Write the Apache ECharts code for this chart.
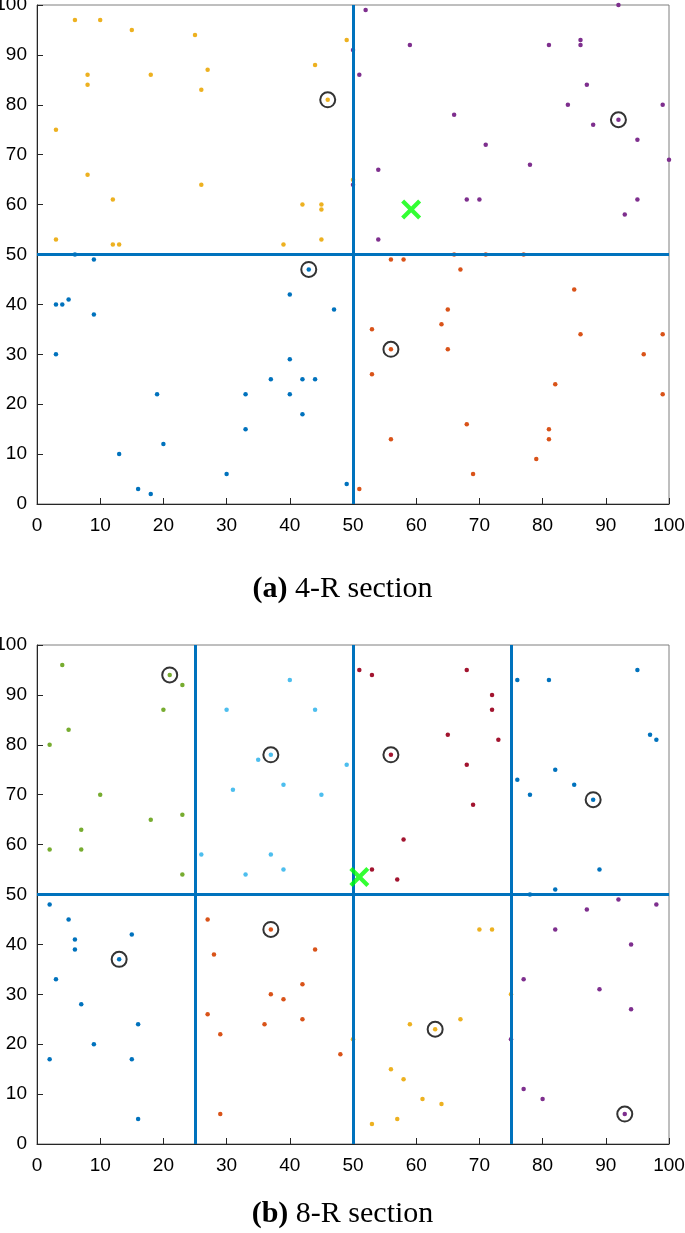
<!DOCTYPE html>
<html>
<head>
<meta charset="utf-8">
<script src="https://cdn.jsdelivr.net/npm/echarts@6/dist/echarts.min.js"></script>
<style>
html,body{margin:0;padding:0;background:#fff;}
#chart{width:685px;height:1233px;}
</style>
</head>
<body>
<div id="chart"></div>
<script>
// ---------- data ----------
const axisRange = [0, 100];
const tickStep = 10;

// (a) 4-R section
const topBlue = [[6,50],[9,49],[43,47],[3,40],[4,40],[5,41],[9,38],[40,42],[47,39],[3,30],[40,29],[37,25],[42,25],[44,25],[19,22],[33,22],[40,22],[42,18],[33,15],[20,12],[13,10],[30,6],[16,3],[18,2],[49,4]];
const topRed = [[56,49],[58,49],[66,50],[71,50],[77,50],[67,47],[85,43],[65,39],[64,36],[53,35],[86,34],[99,34],[56,31],[65,31],[96,30],[53,26],[82,24],[99,22],[68,16],[81,15],[81,13],[56,13],[79,9],[69,6],[51,3]];
const topYellow = [[6,97],[10,97],[15,95],[25,94],[49,93],[44,88],[8,86],[18,86],[27,87],[8,84],[26,83],[46,81],[3,75],[8,66],[26,64],[50,65],[12,61],[42,60],[45,60],[45,59],[3,53],[12,52],[13,52],[39,52],[45,53]];
const topPurple = [[52,99],[50,91],[59,92],[51,86],[92,100],[81,92],[86,93],[86,92],[87,84],[84,80],[99,80],[92,77],[88,76],[66,78],[95,73],[71,72],[100,69],[78,68],[54,67],[50,64],[68,61],[70,61],[95,61],[93,58],[54,53]];
const topCentres = [[46,81],[92,77],[43,47],[56,31]];
const topCross = [[59.2,59]];
const topDividersX = [50];
const topDividersY = [50];

// (b) 8-R section
const botGreen = [[4,96],[21,94],[23,92],[20,87],[5,83],[2,80],[10,70],[23,66],[18,65],[7,63],[2,59],[7,59],[23,54]];
const botLightBlue = [[40,93],[30,87],[44,87],[37,78],[35,77],[49,76],[31,71],[39,72],[45,70],[26,58],[37,58],[33,54],[39,55]];
const botCrimson = [[51,95],[53,94],[68,95],[72,90],[72,87],[65,82],[73,81],[56,78],[68,76],[69,68],[58,61],[53,55],[57,53]];
const botBlue = [[76,93],[81,93],[95,95],[97,82],[98,81],[82,75],[76,73],[85,72],[78,70],[88,69],[89,55],[82,51],[78,50],
                 [2,48],[5,45],[6,41],[6,39],[15,42],[13,37],[3,33],[7,28],[16,24],[9,20],[2,17],[15,17],[16,5]];
const botRed = [[27,45],[37,43],[28,38],[44,39],[42,32],[37,30],[39,29],[27,26],[36,24],[42,25],[29,22],[48,18],[29,6]];
const botYellow = [[70,43],[72,43],[75,30],[50,21],[59,24],[63,23],[67,25],[56,15],[58,13],[61,9],[64,8],[57,5],[53,4]];
const botPurple = [[92,49],[98,48],[87,47],[82,43],[94,40],[77,33],[89,31],[94,27],[75,21],[77,11],[80,9],[93,6]];
const botCentres = [[21,94],[37,78],[56,78],[88,69],[13,37],[37,43],[63,23],[93,6]];
const botCross = [[51,53.5]];
const botDividersX = [25,50,75];
const botDividersY = [50];

const captionA = ['(a)', '4-R section'];
const captionB = ['(b)', '8-R section'];

// ---------- styling ----------
const C = {
  blue:'#0072BD', red:'#D95319', yellow:'#EDB120', purple:'#7E2F8E',
  green:'#77AC30', lightBlue:'#4DBEEE', crimson:'#A2142F', cross:'#00FF00'
};
const crossPath = 'path://M0,1.5L1.5,0L5,3.5L8.5,0L10,1.5L6.5,5L10,8.5L8.5,10L5,6.5L1.5,10L0,8.5L3.5,5Z';

function xAxis(gi){
  return {
    gridIndex: gi, type:'value', min:axisRange[0], max:axisRange[1], interval:tickStep,
    axisLine:{show:true, onZero:false, lineStyle:{color:'#262626', width:1}},
    axisTick:{show:true, inside:true, length:6, lineStyle:{color:'#262626'}},
    axisLabel:{color:'#000', fontFamily:'Liberation Sans', fontSize:19, margin:12},
    splitLine:{show:false}
  };
}
function yAxis(gi){
  return {
    gridIndex: gi, type:'value', min:axisRange[0], max:axisRange[1], interval:tickStep,
    axisLine:{show:true, onZero:false, lineStyle:{color:'#262626', width:1}},
    axisTick:{show:true, inside:true, length:6, lineStyle:{color:'#262626'}},
    axisLabel:{color:'#000', fontFamily:'Liberation Sans', fontSize:19, margin:10},
    splitLine:{show:false}
  };
}
function dots(gi, data, color){
  return {type:'scatter', xAxisIndex:gi, yAxisIndex:gi, data:data, symbol:'circle', symbolSize:4.5,
    itemStyle:{color:color, opacity:1}, z:3, silent:true};
}
function centres(gi, data){
  return {type:'scatter', xAxisIndex:gi, yAxisIndex:gi, data:data, symbol:'circle', symbolSize:15,
    itemStyle:{color:'rgba(0,0,0,0)', borderColor:'#000', borderWidth:2}, z:4, silent:true};
}
function cross(gi, data){
  return {type:'scatter', xAxisIndex:gi, yAxisIndex:gi, data:data, symbol:crossPath, symbolSize:20,
    itemStyle:{color:C.cross}, z:5, silent:true};
}
function dividers(gi, xs, ys){
  return {type:'scatter', xAxisIndex:gi, yAxisIndex:gi, data:[], z:2, silent:true,
    markLine:{silent:true, symbol:['none','none'], label:{show:false}, animation:false,
      lineStyle:{color:C.blue, width:3, type:'solid', opacity:1},
      emphasis:{disabled:true},
      data: xs.map(v=>({xAxis:v})).concat(ys.map(v=>({yAxis:v})))}};
}

const chart = echarts.init(document.getElementById('chart'), null, {renderer:'canvas'});
chart.setOption({
  animation:false,
  backgroundColor:'#fff',
  grid:[
    {left:37, top:5, width:632, height:499, show:true, borderColor:'#7f7f7f', borderWidth:1, backgroundColor:'#fff', containLabel:false, outerBoundsMode:'none'},
    {left:37, top:645, width:632, height:499, show:true, borderColor:'#7f7f7f', borderWidth:1, backgroundColor:'#fff', containLabel:false, outerBoundsMode:'none'}
  ],
  xAxis:[xAxis(0), xAxis(1)],
  yAxis:[yAxis(0), yAxis(1)],
  series:[
    dividers(0, topDividersX, topDividersY),
    dots(0, topBlue, C.blue), dots(0, topRed, C.red), dots(0, topYellow, C.yellow), dots(0, topPurple, C.purple),
    centres(0, topCentres), cross(0, topCross),
    dividers(1, botDividersX, botDividersY),
    dots(1, botGreen, C.green), dots(1, botLightBlue, C.lightBlue), dots(1, botCrimson, C.crimson),
    dots(1, botBlue, C.blue), dots(1, botRed, C.red), dots(1, botYellow, C.yellow), dots(1, botPurple, C.purple),
    centres(1, botCentres), cross(1, botCross)
  ],
  graphic:[
    {type:'text', left:'center', top:574, style:{
      text:'{b|'+captionA[0]+'} '+captionA[1],
      font:'30px "Liberation Serif"', fill:'#000',
      rich:{b:{fontWeight:'bold', fontFamily:'Liberation Serif', fontSize:30, fill:'#000'}}}},
    {type:'text', left:'center', top:1199, style:{
      text:'{b|'+captionB[0]+'} '+captionB[1],
      font:'30px "Liberation Serif"', fill:'#000',
      rich:{b:{fontWeight:'bold', fontFamily:'Liberation Serif', fontSize:30, fill:'#000'}}}}
  ]
});
</script>
</body>
</html>
